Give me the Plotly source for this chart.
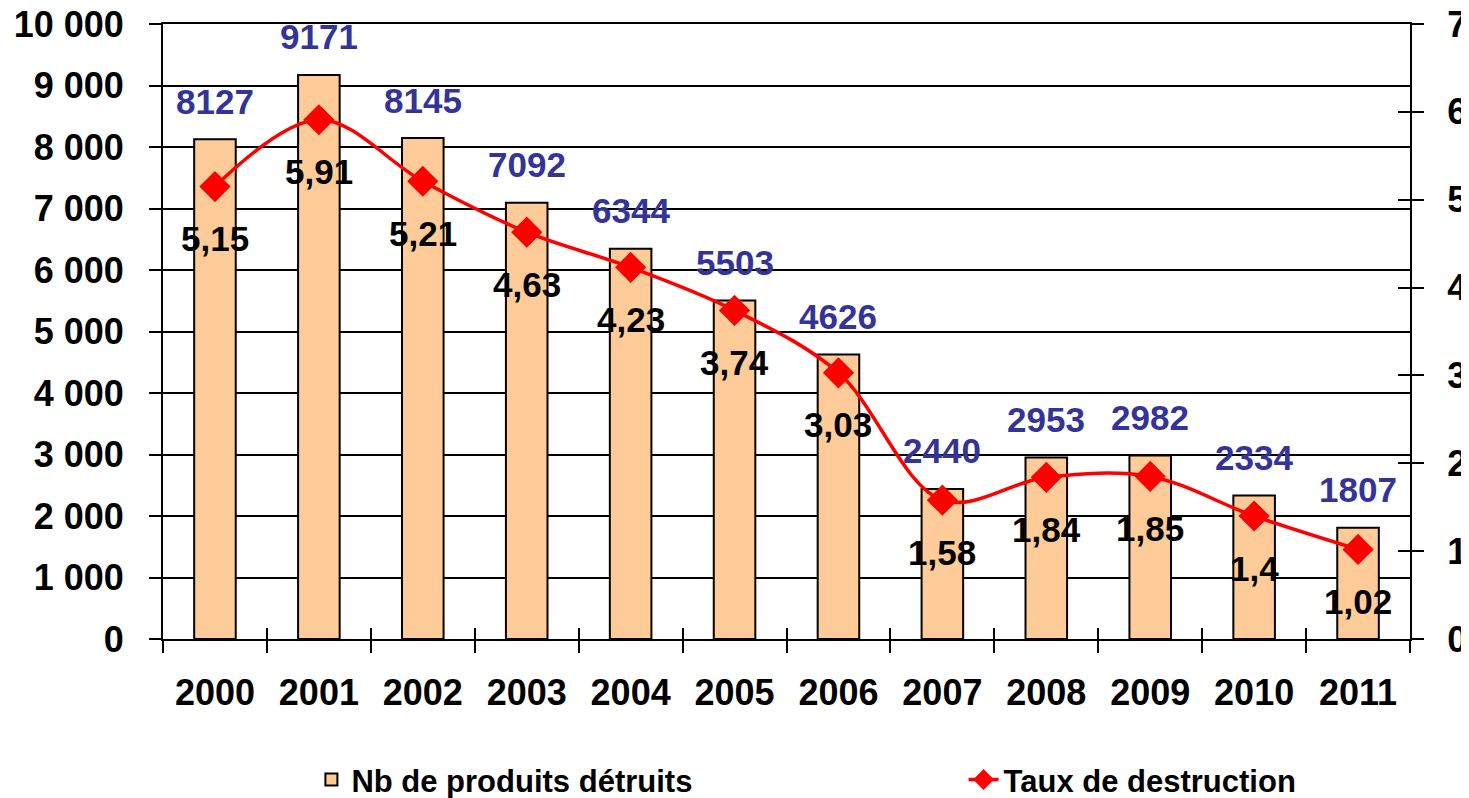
import plotly.graph_objects as go

years = ["2000", "2001", "2002", "2003", "2004", "2005", "2006", "2007", "2008", "2009", "2010", "2011"]
nb_detruits = [8127, 9171, 8145, 7092, 6344, 5503, 4626, 2440, 2953, 2982, 2334, 1807]
taux = [5.15, 5.91, 5.21, 4.63, 4.23, 3.74, 3.03, 1.58, 1.84, 1.85, 1.4, 1.02]
left_ticks = [0, 1000, 2000, 3000, 4000, 5000, 6000, 7000, 8000, 9000, 10000]
left_tick_text = ["0", "1 000", "2 000", "3 000", "4 000", "5 000", "6 000", "7 000", "8 000", "9 000", "10 000"]
right_ticks = [0, 1, 2, 3, 4, 5, 6, 7]

FONT = "Liberation Sans, Arial, sans-serif"
BAR_LABEL = "#333399"

fig = go.Figure()
fig.add_trace(go.Bar(
    x=years, y=nb_detruits, name="Nb de produits détruits",
    width=0.4,
    marker=dict(color="#FFCC99", line=dict(color="black", width=2)),
    yaxis="y", legend="legend",
))
fig.add_trace(go.Scatter(
    x=years, y=taux, name="Taux de destruction",
    mode="lines+markers",
    line=dict(color="#FF0000", width=3.5, shape="spline", smoothing=1.0),
    marker=dict(symbol="diamond", size=24, color="#FF0000"),
    yaxis="y2", legend="legend2",
))
# invisible helper traces so the inside-tick overlay axes are drawn
fig.add_trace(go.Scatter(x=[0], y=[0], xaxis="x2", yaxis="y", mode="markers",
                         marker=dict(opacity=0), showlegend=False, hoverinfo="skip"))
fig.add_trace(go.Scatter(x=[years[0]], y=[0], xaxis="x", yaxis="y3", mode="markers",
                         marker=dict(opacity=0), showlegend=False, hoverinfo="skip"))

annotations = []
for i, v in enumerate(nb_detruits):
    annotations.append(dict(x=i, y=v, xref="x", yref="y", text=str(v), showarrow=False,
                            yshift=38, font=dict(family=FONT, size=35, color=BAR_LABEL, weight="bold")))
for i, v in enumerate(taux):
    annotations.append(dict(x=i, y=v, xref="x", yref="y2", text=str(v).replace(".", ","), showarrow=False,
                            yshift=-52, font=dict(family=FONT, size=35, color="black", weight="bold")))

tickfont = dict(family=FONT, size=36, color="black", weight="bold")
legfont = dict(family=FONT, size=31, color="black", weight="bold")

# the page body adds an 8px offset, so the figure is sized to end at the window edge
fig.update_layout(
    template="none",
    width=1461, height=790,
    margin=dict(l=155, r=59, t=16, b=159, autoexpand=False),
    paper_bgcolor="white", plot_bgcolor="white",
    showlegend=True,
    legend=dict(orientation="h", x=0.119, y=-0.229, xanchor="left", yanchor="middle",
                bgcolor="rgba(0,0,0,0)", font=legfont),
    legend2=dict(orientation="h", x=0.642, y=-0.229, xanchor="left", yanchor="middle",
                 bgcolor="rgba(0,0,0,0)", font=legfont),
    annotations=annotations,
    xaxis=dict(type="category", showgrid=False, showline=True, linecolor="black", linewidth=2,
               mirror=True,
               ticks="outside", tickson="boundaries", ticklen=12, tickwidth=2, tickcolor="black",
               tickfont=tickfont, ticklabelstandoff=21, range=[-0.5, 11.5], automargin=False),
    xaxis2=dict(overlaying="x", anchor="y", side="bottom", type="linear", range=[-0.5, 11.5],
                tickvals=[i - 0.5 for i in range(len(years) + 1)], ticks="inside", ticklen=11,
                tickwidth=2, tickcolor="black", showticklabels=False, showgrid=False,
                showline=False, zeroline=False, automargin=False),
    yaxis=dict(range=[0, 10000], tickvals=left_ticks, ticktext=left_tick_text,
               showgrid=True, gridcolor="black", gridwidth=2,
               showline=True, linecolor="black", linewidth=2,
               ticks="outside", ticklen=12, tickwidth=2, tickcolor="black",
               tickfont=tickfont, ticklabelstandoff=18, ticklabeloverflow="allow",
               zeroline=False, automargin=False),
    yaxis2=dict(overlaying="y", side="right", range=[0, 7], tickvals=right_ticks,
                showgrid=False, showline=True, linecolor="black", linewidth=2,
                ticks="outside", ticklen=12, tickwidth=2, tickcolor="black",
                tickfont=tickfont, ticklabelstandoff=16, ticklabeloverflow="allow",
                zeroline=False, automargin=False),
    yaxis3=dict(overlaying="y", side="right", anchor="x", range=[0, 7], tickvals=right_ticks,
                ticks="inside", ticklen=12, tickwidth=2, tickcolor="black",
                showticklabels=False, showgrid=False, showline=False, zeroline=False, automargin=False),
)

fig.write_html("out.html")
